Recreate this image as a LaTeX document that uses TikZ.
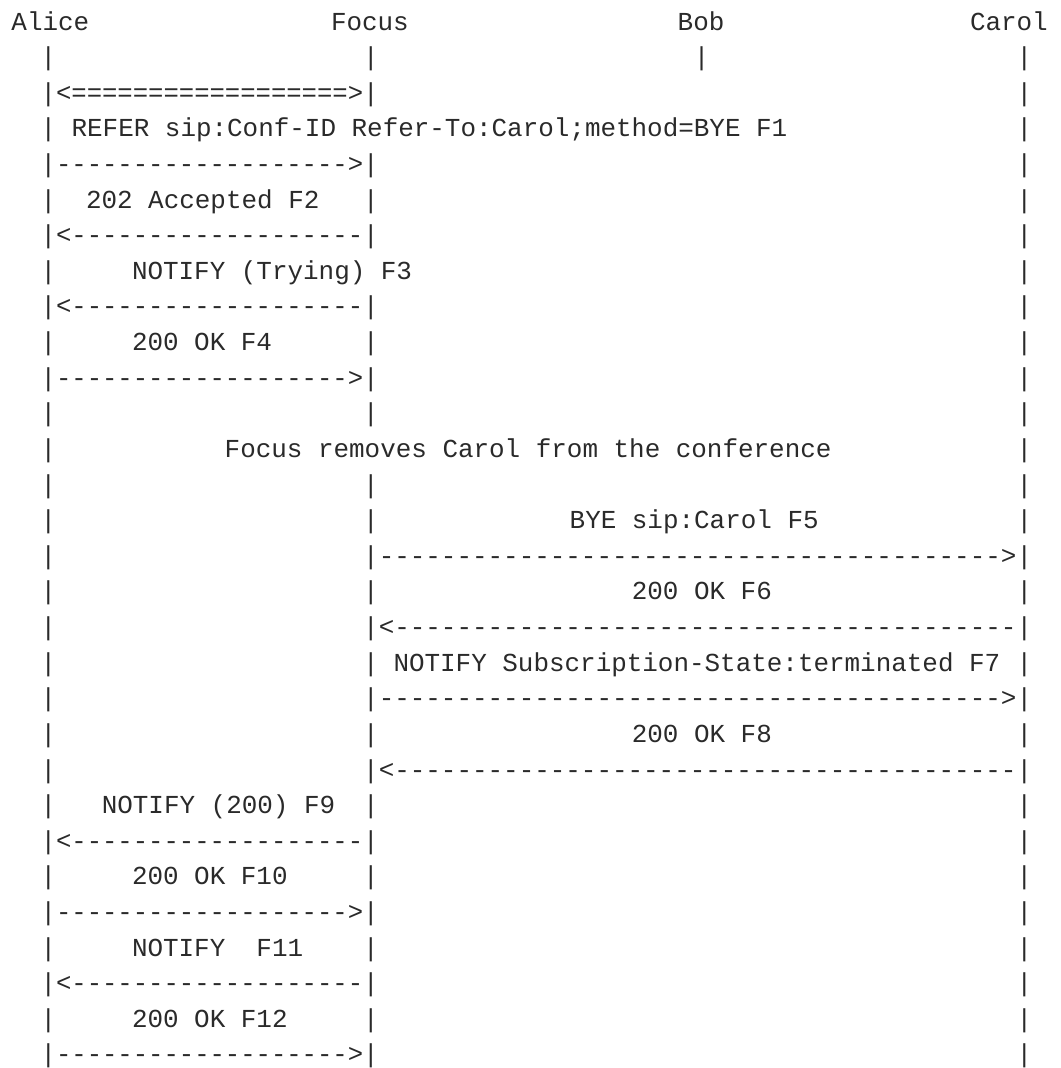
\documentclass[tikz,border=0pt]{standalone}
\usepackage{fontspec}
\setmonofont{Liberation Mono}
\usepackage{graphicx}
\definecolor{ink}{HTML}{2A2A2A}
\ExplSyntaxOn
\cs_new:Npn \reptext #1#2 { \prg_replicate:nn {#1} {#2} }
\ExplSyntaxOff
\newcommand\asc{\ttfamily\fontsize{25.93pt}{35.62pt}\selectfont}
\tikzset{
  txt/.style={font=\asc, text=ink, inner sep=0pt, outer sep=0pt, anchor=base west},
  lifebar/.style={font=\asc, text=ink, inner sep=0pt, outer sep=0pt, anchor=base},
  arrowtxt/.style={font=\asc, text=ink, inner sep=0pt, outer sep=0pt, anchor=base west}
}
\newcommand\lbl[4]{\node[txt] (#1) at (#2, {30+(#3-1)*35.62}) {#4};}
% arrows between Alice and Focus lifelines
\newcommand\afright[1]{\node[arrowtxt] (m#1) at (a#1.base east) {\resizebox{307.1pt}{\height}{\reptext{19}{-}>}};}
\newcommand\afleft[1]{\node[arrowtxt] (m#1) at (a#1.base east) {\resizebox{307.1pt}{\height}{<\reptext{19}{-}}};}
% arrows between Focus and Carol lifelines
\newcommand\fcright[1]{\node[arrowtxt] (m#1) at (f#1.base east) {\resizebox{637.7pt}{\height}{\reptext{40}{-}>}};}
\newcommand\fcleft[1]{\node[arrowtxt] (m#1) at (f#1.base east) {\resizebox{637.7pt}{\height}{<\reptext{40}{-}}};}
\begin{document}
\begin{tikzpicture}[x=1pt,y=-1pt]
\useasboundingbox (0,0) rectangle (1060,1068);
\fill[white] (0,0) rectangle (1060,1068);
% header
\lbl{alice}{11.5}{1}{Alice}
\lbl{focus}{331}{1}{Focus}
\lbl{bob}{677.7}{1}{Bob}
\lbl{carol}{970}{1}{Carol}
% lifelines
\foreach \r in {2,...,30} {
  \node[lifebar] (a\r) at (48.3,{30+(\r-1)*35.62}) {|};
  \node[lifebar] (c\r) at (1024.3,{30+(\r-1)*35.62}) {|};
}
\foreach \r in {2,3,5,6,7,9,10,11,12,14,15,16,17,18,19,20,21,22,23,24,25,26,27,28,29,30} {
  \node[lifebar] (f\r) at (371.0,{30+(\r-1)*35.62}) {|};
}
\node[lifebar] (b2) at (701.7,{30+(2-1)*35.62}) {|};
% row 3: media
\node[arrowtxt] (m3) at (a3.base east) {\resizebox{307.1pt}{\height}{<\reptext{18}{=}>}};
% messages
\lbl{l4}{71.6}{4}{REFER sip:Conf-ID Refer-To:Carol;method=BYE F1}
\afright{5}
\lbl{l6}{86}{6}{202 Accepted F2}
\afleft{7}
\lbl{l8}{132}{8}{NOTIFY (Trying) F3}
\afleft{9}
\lbl{l10}{132}{10}{200 OK F4}
\afright{11}
\lbl{l13}{224.7}{13}{Focus removes Carol from the conference}
\lbl{l15}{569.7}{15}{BYE sip:Carol F5}
\fcright{16}
\lbl{l17}{631.8}{17}{200 OK F6}
\fcleft{18}
\lbl{l19}{393.5}{19}{NOTIFY Subscription-State:terminated F7}
\fcright{20}
\lbl{l21}{631.8}{21}{200 OK F8}
\fcleft{22}
\lbl{l23}{101.8}{23}{NOTIFY (200) F9}
\afleft{24}
\lbl{l25}{132}{25}{200 OK F10}
\afright{26}
\lbl{l27}{132}{27}{NOTIFY~~F11}
\afleft{28}
\lbl{l29}{132}{29}{200 OK F12}
\afright{30}
\end{tikzpicture}
\end{document}
